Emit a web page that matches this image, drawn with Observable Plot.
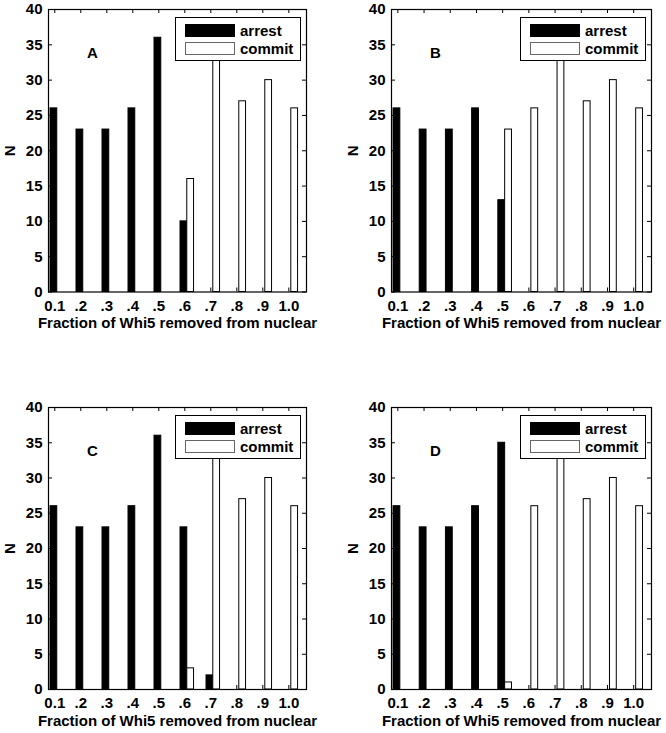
<!DOCTYPE html>
<html>
<head>
<meta charset="utf-8">
<script src="https://cdn.jsdelivr.net/npm/d3@7"></script>
<script src="https://cdn.jsdelivr.net/npm/@observablehq/plot@0.6"></script>
<style>
  body { margin: 0; background: #fff; }
  #wrap { position: relative; width: 666px; height: 733px; overflow: hidden;
          font-family: "Liberation Sans", Arial, Helvetica, sans-serif; }
  .panel { position: absolute; }
  .panel svg { display: block; }
  .legend { position: absolute; background: #fff; border: 1px solid #000; box-sizing: border-box;
            font-weight: bold; font-size: 15px; color: #000; }
  .legend .row { position: absolute; left: 9px; display: flex; align-items: center; height: 13px; }
  .legend .sw { width: 50px; height: 13px; box-sizing: border-box; margin-right: 5px; }
  .legend .sw.arrest { background: #000; border: 1px solid #000; }
  .legend .sw.commit { background: #fff; border: 1px solid #666; }
</style>
</head>
<body>
<div id="wrap"></div>
<script>
// ---- data ----
const xValues = [0.1, 0.2, 0.3, 0.4, 0.5, 0.6, 0.7, 0.8, 0.9, 1.0];
const xTickLabels = ["0.1", ".2", ".3", ".4", ".5", ".6", ".7", ".8", ".9", "1.0"];
const yTicks = [0, 5, 10, 15, 20, 25, 30, 35, 40];
const seriesNames = ["arrest", "commit"];
const panelLetters = ["A", "B", "C", "D"];
const xLabel = "Fraction of Whi5 removed from nuclear";
const yLabel = "N";

const arrestA = [26, 23, 23, 26, 36, 10, 0, 0, 0, 0];
const commitA = [0, 0, 0, 0, 0, 16, 36, 27, 30, 26];
const arrestB = [26, 23, 23, 26, 13, 0, 0, 0, 0, 0];
const commitB = [0, 0, 0, 0, 23, 26, 36, 27, 30, 26];
const arrestC = [26, 23, 23, 26, 36, 23, 2, 0, 0, 0];
const commitC = [0, 0, 0, 0, 0, 3, 36, 27, 30, 26];
const arrestD = [26, 23, 23, 26, 35, 0, 0, 0, 0, 0];
const commitD = [0, 0, 0, 0, 1, 26, 36, 27, 30, 26];

// ---- layout / style ----
const FONT = '"Liberation Sans", Arial, Helvetica, sans-serif';
const barW = 0.026;
const offsets = { arrest: -0.0035, commit: 0.0225 };
const layouts = [
  { left: 0,   top: 0,   width: 333, height: 340, ml: 48, mr: 27, mt: 9,  mb: 48.5 },
  { left: 333, top: 0,   width: 333, height: 340, ml: 58, mr: 15, mt: 9,  mb: 48.5 },
  { left: 0,   top: 397, width: 333, height: 336, ml: 48, mr: 27, mt: 10, mb: 44 },
  { left: 333, top: 397, width: 333, height: 336, ml: 58, mr: 15, mt: 10, mb: 44 }
];
const panelsData = [
  [arrestA, commitA], [arrestB, commitB], [arrestC, commitC], [arrestD, commitD]
];

const wrap = document.getElementById("wrap");

panelsData.forEach(([arrest, commit], p) => {
  const L = layouts[p];
  const W = L.width - L.ml - L.mr;
  const H = L.height - L.mt - L.mb;
  const rowsA = xValues.map((x, i) => ({ x, n: arrest[i] })).filter(d => d.n > 0);
  const rowsC = xValues.map((x, i) => ({ x, n: commit[i] })).filter(d => d.n > 0);
  const tick = 4;

  const chart = Plot.plot({
    width: L.width, height: L.height,
    marginLeft: L.ml, marginRight: L.mr, marginTop: L.mt, marginBottom: L.mb,
    style: { fontFamily: FONT, fontSize: "15px", fontWeight: "bold", color: "#000", background: "transparent" },
    x: { domain: [0.0758, 1.068] },
    y: { domain: [0, 40] },
    marks: [
      Plot.rectY(rowsA, {
        x1: d => d.x + offsets.arrest - barW / 2, x2: d => d.x + offsets.arrest + barW / 2,
        y1: 0, y2: "n", fill: "#000", stroke: "#000", strokeWidth: 1
      }),
      Plot.rectY(rowsC, {
        x1: d => d.x + offsets.commit - barW / 2, x2: d => d.x + offsets.commit + barW / 2,
        y1: 0, y2: "n", fill: "#fff", stroke: "#000", strokeWidth: 1
      }),
      // inward tick marks on all four sides
      Plot.tickX(xValues, { x: d => d, insetTop: H - tick, stroke: "#000" }),
      Plot.tickX(xValues, { x: d => d, insetBottom: H - tick, stroke: "#000" }),
      Plot.tickY(yTicks, { y: d => d, insetRight: W - tick, stroke: "#000" }),
      Plot.tickY(yTicks, { y: d => d, insetLeft: W - tick, stroke: "#000" }),
      Plot.frame({ stroke: "#000", strokeWidth: 1.2 }),
      Plot.axisX({
        ticks: xValues, tickSize: 0, tickPadding: 8, label: null,
        tickFormat: d => xTickLabels[xValues.findIndex(v => Math.abs(v - d) < 1e-9)]
      }),
      Plot.axisY({ ticks: yTicks, tickSize: 0, tickPadding: 6, label: null }),
      Plot.text([xLabel], { text: d => d, frameAnchor: "bottom", dy: 36, lineAnchor: "bottom",
        fontSize: 15, fontWeight: "bold" }),
      Plot.text([yLabel], { text: d => d, frameAnchor: "left", dx: -34, rotate: -90,
        lineAnchor: "bottom", textAnchor: "middle", fontSize: 15, fontWeight: "bold" }),
      Plot.text([panelLetters[p]], { text: d => d, frameAnchor: "top-left", dx: 44, dy: 43.4,
        lineAnchor: "middle", textAnchor: "middle", fontSize: 15, fontWeight: "bold" })
    ]
  });

  const div = document.createElement("div");
  div.className = "panel";
  div.style.left = L.left + "px";
  div.style.top = L.top + "px";
  div.style.width = L.width + "px";
  div.style.height = L.height + "px";
  div.appendChild(chart);

  // legend (inside plot area, top-right)
  const lg = document.createElement("div");
  lg.className = "legend";
  const lgW = 126, lgH = 44;
  lg.style.width = lgW + "px";
  lg.style.height = lgH + "px";
  lg.style.left = (L.width - L.mr - 5 - lgW) + "px";
  lg.style.top = (L.mt + 8) + "px";
  seriesNames.forEach((s, i) => {
    const row = document.createElement("div");
    row.className = "row";
    row.style.top = (6 + i * 18.4) + "px";
    const sw = document.createElement("div");
    sw.className = "sw " + s;
    const t = document.createElement("span");
    t.textContent = s;
    row.appendChild(sw);
    row.appendChild(t);
    lg.appendChild(row);
  });
  div.appendChild(lg);
  wrap.appendChild(div);
});
</script>
</body>
</html>
